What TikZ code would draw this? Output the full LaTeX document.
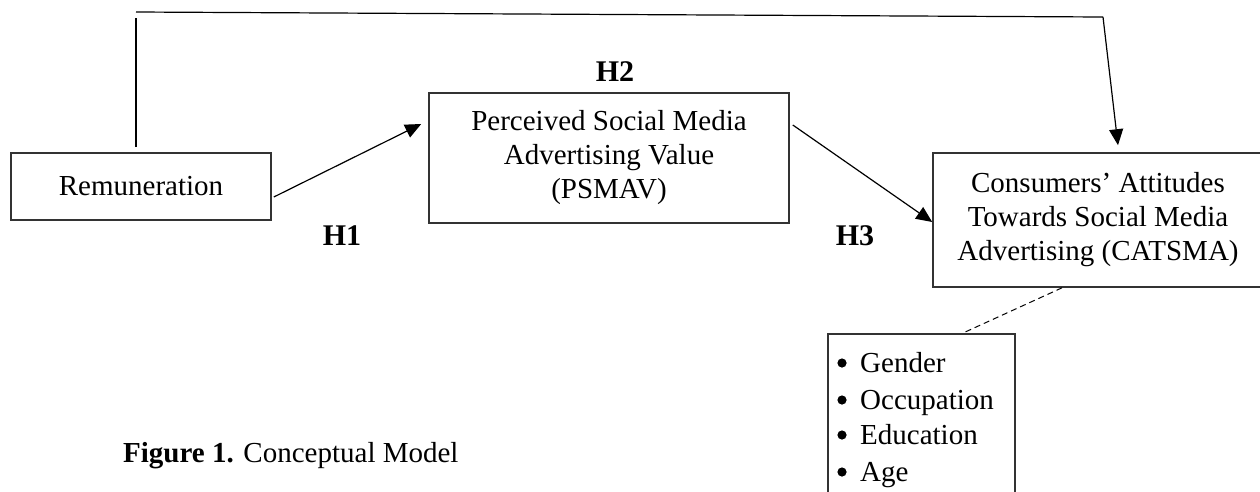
\documentclass[tikz,border=0pt]{standalone}
\usepackage{fontspec}
\setmainfont{Liberation Serif}
\usetikzlibrary{arrows.meta}
\begin{document}
\begin{tikzpicture}[x=1pt,y=-1pt,
  txt/.style={font=\fontsize{29}{34}\selectfont},
  box/.style={draw=black!80,line width=1.6pt,txt,align=center,inner sep=0pt},
  hyp/.style={font=\fontsize{30}{34}\selectfont\bfseries,inner sep=0pt},
  item/.style={txt,anchor=base west,inner sep=0pt},
  dot/.style={fill=black},
  link/.style={line width=1.2pt,-{Triangle[length=16pt,width=14pt]}},
  plain/.style={line width=1.2pt}]
\clip (0,0) rectangle (1260,491);
\useasboundingbox (0,0) rectangle (1260,491);

% constructs
\node[box,minimum width=260,minimum height=67] (rem) at (141,186.5) {Remuneration};
\node[box,minimum width=360,minimum height=130] (psmav) at (609,158)
  {Perceived Social Media\\Advertising Value\\(PSMAV)};
\node[box,minimum width=330,minimum height=134] (catsma) at (1098,220)
  {Consumers’ Attitudes\\Towards Social Media\\Advertising (CATSMA)};
\node[box,minimum width=187,minimum height=190,anchor=north] (demo) at (921.5,333) {};

% control variables
\node[item] (g) at (860,372) {Gender};
\node[item] (o) at (860,409) {Occupation};
\node[item] (e) at (860,444) {Education};
\node[item] (a) at (860,481) {Age};
\foreach \n in {g,o,e,a}
  \fill[dot] ([xshift=-18pt,yshift=9pt]\n.base west) circle (4.6pt);

% hypothesis labels
\node[hyp] (h1) at (342,236) {H1};
\node[hyp] (h2) at (615,72) {H2};
\node[hyp] (h3) at (855,236) {H3};

% direct path over the top
\coordinate (vt) at (136,18);
\coordinate (tl) at (136,12);
\coordinate (tr) at (1103,17);
\draw[plain] ([xshift=-5pt,yshift=5pt]rem.north) -- (vt);
\draw[plain] (tl) -- (tr);
\draw[link] (tr) -- ([xshift=20pt,yshift=7pt]catsma.north);

% mediated paths
\draw[link] ([xshift=2pt,yshift=-10.5pt]rem.east) -- ([xshift=-7pt,yshift=34pt]psmav.west);
\draw[link] ([xshift=3pt,yshift=33pt]psmav.east) -- ([yshift=-2pt]catsma.west);

% demographics link
\draw[line width=1pt,dash pattern=on 6pt off 4pt]
  ([xshift=-36pt]catsma.south) -- ([xshift=41.5pt]demo.north);

% caption
\node[txt,anchor=base west,inner sep=0pt] (cap) at (123,462)
  {\textbf{Figure 1.} Conceptual Model};
\end{tikzpicture}
\end{document}
